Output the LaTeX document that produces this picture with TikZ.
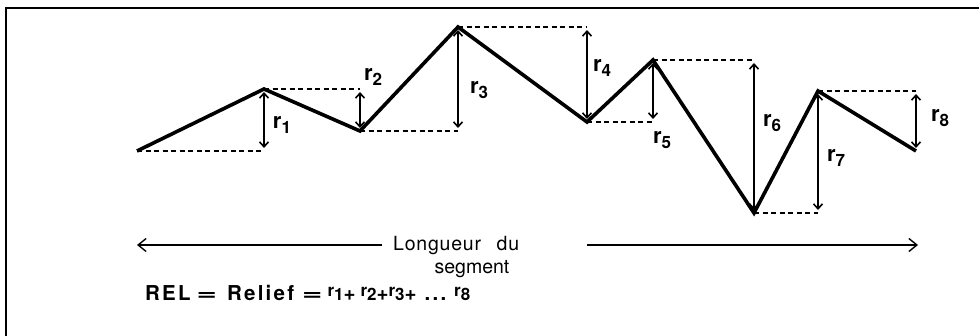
\documentclass[tikz,border=0pt]{standalone}
\usepackage{fontspec}
\usepackage{graphicx}
\setmainfont{TeX Gyre Heros}
\usetikzlibrary{arrows.meta}

% r with its index, on the profile and in the formula
\newcommand{\rlab}[1]{{\fontsize{22}{22}\selectfont r}\raisebox{-5pt}{\fontsize{17}{17}\selectfont #1}}
\newcommand{\rform}[1]{\raisebox{4pt}{\fontsize{17}{17}\selectfont r}{\fontsize{17}{17}\selectfont #1}}
\newcommand{\wideeq}{\scalebox{1.7}[1]{=}}

\tikzset{
  profile/.style={line width=3.6pt,line join=miter,miter limit=3},
  guide/.style={line width=1.1pt,dash pattern=on 5pt off 3.5pt},
  gauge/.style={{Straight Barb[length=5pt,width=9pt]}-{Straight Barb[length=5pt,width=9pt]},
    line width=1.6pt,shorten <=3pt,shorten >=3pt},
  span/.style={-{Straight Barb[length=8pt,width=13pt]},line width=1.4pt},
  rlabel/.style={inner sep=0pt,font=\bfseries},
}

\begin{document}
\begin{tikzpicture}[x=1pt,y=-1pt]
      \useasboundingbox (0,0) rectangle (979,336);

      % FRAME
      \draw[line width=2.4pt] (6,336) -- (6,8) -- (979,8);

      % PROFILE POINTS
      \coordinate (p0) at (137,151);
      \coordinate (p1) at (264,89);
      \coordinate (p2) at (360,131);
      \coordinate (p3) at (458,27);
      \coordinate (p4) at (587,122);
      \coordinate (p5) at (653,60);
      \coordinate (p6) at (754,213);
      \coordinate (p7) at (818,91);
      \coordinate (p8) at (916,151);

      \draw[profile] (p0) -- (p1) -- (p2) -- (p3) -- (p4)
        -- (p5) -- (p6) -- (p7) -- (p8);

      % DASHED LEVELS
      \draw[guide] (p0) -- (p0 -| p1);
      \draw[guide] (p1) -- (p1 -| p2);
      \draw[guide] (p2) -- (p2 -| p3);
      \draw[guide] (p3) -- (p3 -| p4);
      \draw[guide] (p4) -- (p4 -| p5);
      \draw[guide] (p5) -- (p5 -| p6);
      \draw[guide] (p6) -- (p6 -| p7);
      \draw[guide] (p7) -- (p7 -| p8);

      % ARROWS
      \draw[gauge] (p1) -- (p1 |- p0);
      \draw[gauge] (p1 -| p2) -- (p2);
      \draw[gauge] (p3) -- (p3 |- p2);
      \draw[gauge] (p3 -| p4) -- (p4);
      \draw[gauge] (p5) -- (p5 |- p4);
      \draw[gauge] (p5 -| p6) -- (p6);
      \draw[gauge] (p7) -- (p7 |- p6);
      \draw[gauge] (p7 -| p8) -- (p8);

      % LABELS
      \node[rlabel] (r1) at (282,125) {\rlab{1}};
      \node[rlabel] (r2) at (373,77)  {\rlab{2}};
      \node[rlabel] (r3) at (479,90)  {\rlab{3}};
      \node[rlabel] (r4) at (602,68)  {\rlab{4}};
      \node[rlabel] (r5) at (662,140) {\rlab{5}};
      \node[rlabel] (r6) at (772,123) {\rlab{6}};
      \node[rlabel] (r7) at (836,158) {\rlab{7}};
      \node[rlabel] (r8) at (940,118) {\rlab{8}};

      % LENGTH
      \coordinate (endL) at (137,245);
      \coordinate (endR) at (918,245);
      \node[anchor=base west,inner sep=0pt] (len) at (393,251)
        {\fontsize{19.5}{19.5}\selectfont\addfontfeature{LetterSpace=4}Longueur\hspace{0.8em}du};
      \node[anchor=base,inner sep=0pt] (seg) at (472,274)
        {\fontsize{19.5}{19.5}\selectfont segment};
      \draw[span,shorten <=11pt] (len.west |- endL) -- (endL);
      \draw[span,shorten <=68pt] (len.east |- endR) -- (endR);

      % FORMULA
      \node[anchor=base west,inner sep=0pt] (rel) at (145,301)
        {\fontsize{20.5}{20.5}\selectfont\bfseries\addfontfeature{LetterSpace=11}REL\hspace{6pt}\wideeq\hspace{10pt}Relief\hspace{8pt}\wideeq\hspace{5pt}\rform{1}+\hspace{5pt}\rform{2}+\rform{3}+\hspace{8pt}...\hspace{8pt}\rform{8}};
\end{tikzpicture}
\end{document}
